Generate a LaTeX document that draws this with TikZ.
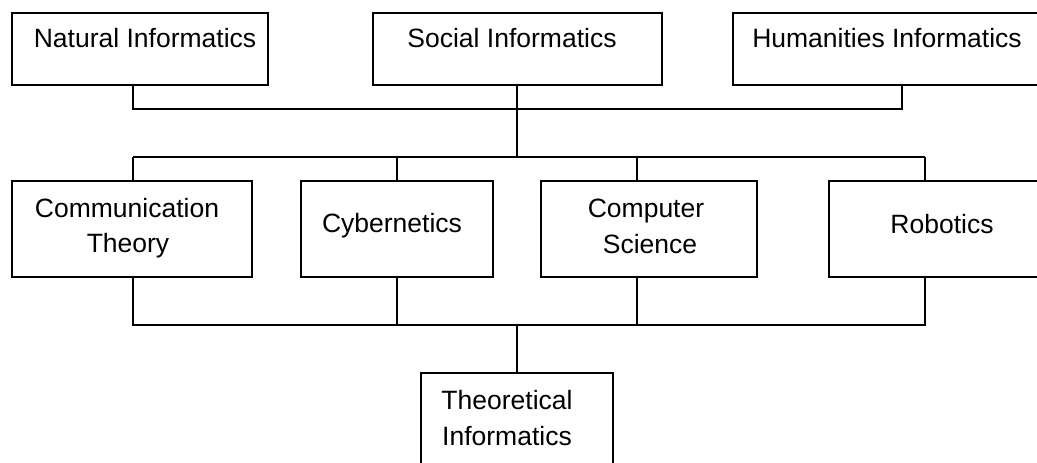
\documentclass[tikz,border=0pt]{standalone}
\usepackage{fontspec}
\setmainfont{Liberation Sans}
\begin{document}
\begin{tikzpicture}[x=1pt,y=-1pt,
  box/.style={draw,line width=1.3pt,inner sep=0pt},
  lbl/.style={inner sep=0pt,anchor=base,font=\fontsize{26.5}{35.5}\selectfont,align=center},
  wire/.style={line width=1.3pt}]
\useasboundingbox (0,0) rectangle (1037,463);
\clip (0,0) rectangle (1037,463);
% boxes
\node[box,minimum width=256pt,minimum height=72pt] (nat) at (140,49) {};
\node[box,minimum width=289pt,minimum height=72pt] (soc) at (517.5,49) {};
\node[box,minimum width=320pt,minimum height=72pt] (hum) at (893,49) {};
\node[box,minimum width=240pt,minimum height=96pt] (com) at (132,229) {};
\node[box,minimum width=192pt,minimum height=96pt] (cyb) at (397,229) {};
\node[box,minimum width=216pt,minimum height=96pt] (cs) at (649,229) {};
\node[box,minimum width=220pt,minimum height=96pt] (rob) at (939,229) {};
\node[box,minimum width=192pt,minimum height=110pt] (the) at (517,428) {};
% labels
\node[lbl] (tnat) at (145,47) {Natural Informatics};
\node[lbl] (tsoc) at (512,47) {Social Informatics};
\node[lbl] (thum) at (887,47) {Humanities Informatics};
\node[lbl] (tcom1) at (127,217) {Communication};
\node[lbl] (tcom2) at (128,252) {Theory};
\node[lbl] (tcyb) at (392,232) {Cybernetics};
\node[lbl] (tcs1) at (646,217) {Computer};
\node[lbl] (tcs2) at (650,253) {Science};
\node[lbl] (trob) at (942,233) {Robotics};
\node[lbl] (tthe1) at (507,409) {Theoretical};
\node[lbl] (tthe2) at (507,445) {Informatics};
% bus coordinates
\coordinate (b1) at (133,109);
\coordinate (b2) at (517,109);
\coordinate (b3) at (902,109);
\coordinate (m0) at (517,157);
\coordinate (m1) at (133,157);
\coordinate (m2) at (397,157);
\coordinate (m3) at (637,157);
\coordinate (m4) at (925,157);
\coordinate (l1) at (133,325);
\coordinate (l2) at (397,325);
\coordinate (l3) at (637,325);
\coordinate (l4) at (925,325);
\coordinate (l0) at (517,325);
% connectors
\draw[wire] (nat.south -| b1) -- (b1) -- (b3) -- (hum.south -| b3);
\draw[wire] (soc.south -| b2) -- (m0);
\draw[wire] (m1) -- (m4);
\draw[wire] (m1) -- (com.north -| m1);
\draw[wire] (m2) -- (cyb.north -| m2);
\draw[wire] (m3) -- (cs.north -| m3);
\draw[wire] (m4) -- (rob.north -| m4);
\draw[wire] (com.south -| l1) -- (l1) -- (l4) -- (rob.south -| l4);
\draw[wire] (cyb.south -| l2) -- (l2);
\draw[wire] (cs.south -| l3) -- (l3);
\draw[wire] (l0) -- (the.north -| l0);
\end{tikzpicture}
\end{document}
